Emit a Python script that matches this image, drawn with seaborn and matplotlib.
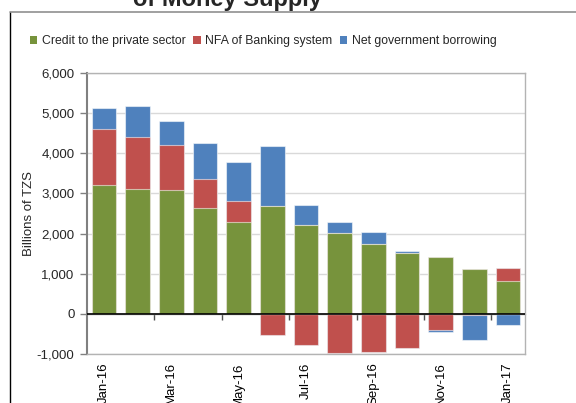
import numpy as np
import pandas as pd
import matplotlib
matplotlib.use("Agg")
import matplotlib.pyplot as plt
import seaborn as sns
from matplotlib.patches import Patch
from matplotlib.lines import Line2D
from matplotlib.ticker import FuncFormatter

# Data (billions of TZS)
months = ["Jan-16", "Feb-16", "Mar-16", "Apr-16", "May-16", "Jun-16", "Jul-16",
          "Aug-16", "Sep-16", "Oct-16", "Nov-16", "Dec-16", "Jan-17"]
credit_private = [3200, 3100, 3075, 2625, 2280, 2675, 2205, 2025, 1735, 1525, 1420, 1110, 820]
nfa_banking = [1415, 1300, 1135, 745, 520, -530, -770, -965, -940, -840, -400, -20, 333]
net_gov_borrowing = [505, 770, 600, 890, 980, 1510, 510, 260, 305, 35, -40, -630, -275]
shown_labels = ["Jan-16", "Mar-16", "May-16", "Jul-16", "Sep-16", "Nov-16", "Jan-17"]

series_names = ["Credit to the private sector", "NFA of Banking system", "Net government borrowing"]
series_colors = ["#77933C", "#C0504D", "#4F81BD"]

df = pd.DataFrame({"month": months, "green": credit_private,
                   "red": nfa_banking, "blue": net_gov_borrowing})

# Excel-style stacking: positives stack up, negatives stack down
for side, fn in [("pos", lambda s: s.clip(lower=0)), ("neg", lambda s: s.clip(upper=0))]:
    g, r, b = fn(df["green"]), fn(df["red"]), fn(df["blue"])
    df[f"{side}_green"] = g
    df[f"{side}_red"] = g + r
    df[f"{side}_blue"] = g + r + b

sns.set_style("white")
plt.rcParams["font.family"] = ["Liberation Sans", "DejaVu Sans"]

fig = plt.figure(figsize=(5.76, 4.03), dpi=100)
ax = fig.add_axes([87 / 576, 1 - 354 / 403, 438 / 576, 281 / 403])

edge = (1, 1, 1, 0.55)
# draw the cumulative layers, outermost first
for key, color in [("blue", series_colors[2]), ("red", series_colors[1]), ("green", series_colors[0])]:
    for side in ["pos", "neg"]:
        sns.barplot(data=df, x="month", y=f"{side}_{key}", order=months, color=color,
                    width=0.73, errorbar=None, edgecolor=edge, linewidth=0.8,
                    saturation=1, ax=ax, zorder=2)

ax.set_ylim(-1000, 6000)
ax.set_xlim(-0.5, len(months) - 0.5)
ax.set_yticks(np.arange(-1000, 6001, 1000))
ax.yaxis.set_major_formatter(FuncFormatter(lambda v, p: f"{int(v):,}"))
ax.yaxis.grid(True, color="#d9d9d9", linewidth=1)
ax.set_axisbelow(True)

ax.set_xticks([months.index(m) for m in shown_labels])
ax.set_xticklabels(shown_labels, rotation=90, va="top", ha="center")
ax.tick_params(axis="x", length=0, pad=6, labelsize=9.5, colors="black")
ax.tick_params(axis="y", direction="out", length=5, width=1, color="#808080",
               labelsize=9.5, pad=4, left=True)
ax.set_xlabel("")
ax.set_ylabel("Billions of TZS", fontsize=9.5, labelpad=1)

for s in ["top", "right", "bottom"]:
    ax.spines[s].set_color("#b3b3b3")
    ax.spines[s].set_linewidth(1)
ax.spines["left"].set_color("#808080")
ax.spines["left"].set_linewidth(1.5)

# zero line with category-boundary ticks
ax.axhline(0, color="black", linewidth=1.2, zorder=5)
sec = ax.secondary_xaxis(1 / 7)
sec.set_xticks(np.arange(1.5, len(months) - 1, 2))
sec.set_xticklabels([])
sec.tick_params(axis="x", direction="out", length=4, width=1, color="#505050")
sec.spines["bottom"].set_color("black")

handles = [Patch(facecolor=c, edgecolor="none") for c in series_colors]
fig.legend(handles, series_names, ncol=3, loc="center left",
           bbox_to_anchor=(30 / 576, 1 - 41 / 403), frameon=False, fontsize=8.8,
           handlelength=0.6, handleheight=0.6, handletextpad=0.35, columnspacing=0.65,
           borderaxespad=0, borderpad=0)

# outer chart frame and clipped title
fig.add_artist(Line2D([10 / 576, 10 / 576], [1 - 12 / 403, 0], transform=fig.transFigure,
                      color="black", linewidth=1))
fig.add_artist(Line2D([10 / 576, 1], [1 - 12 / 403, 1 - 12 / 403], transform=fig.transFigure,
                      color="#909090", linewidth=1.2))
fig.text(227 / 576, 1 - 6 / 403, "of Money Supply", ha="center", va="baseline",
         fontsize=17, fontweight="bold")

fig.savefig("out.png", dpi=100)
